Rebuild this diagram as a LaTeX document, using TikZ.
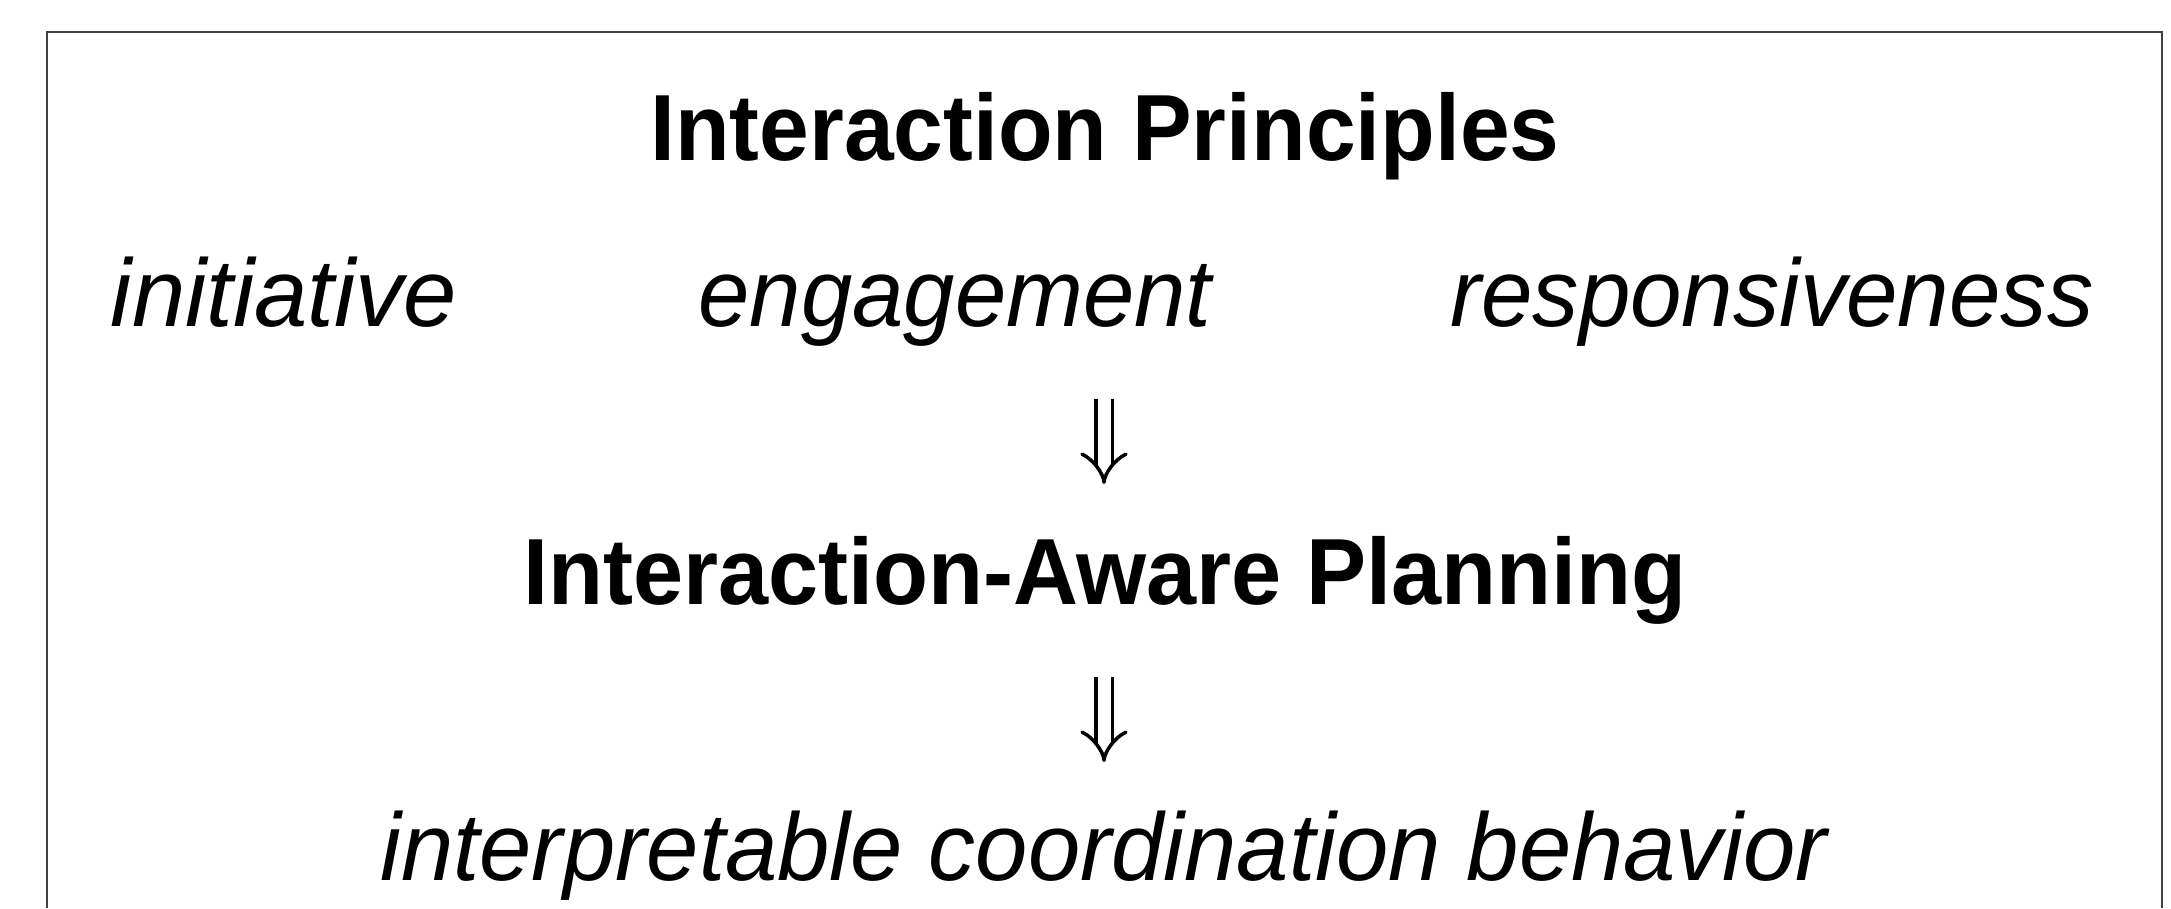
\documentclass[tikz,border=0pt]{standalone}
\usepackage{fontspec}
\setmainfont{Liberation Sans}
\usepackage{graphicx}
\usetikzlibrary{arrows.meta}
\newcommand{\fitw}[2]{\resizebox{#1}{\height}{#2}}
\begin{document}
\begin{tikzpicture}[x=1pt,y=-1pt,
  txt/.style={inner sep=0pt, anchor=base},
  boldtxt/.style={txt, font=\fontsize{94}{110}\selectfont\bfseries},
  italtxt/.style={txt, font=\fontsize{96}{110}\selectfont\itshape},
  framebox/.style={draw=black!75, line width=2pt},
  dblarrow/.style={draw=black, double=white, double distance=13pt, line width=3.5pt,
    -{Implies[length=30pt,width=50pt]}}]
\useasboundingbox (0,0) rectangle (2171,908);
\draw[framebox] (47,908) -- (47,32) -- (2162,32) -- (2162,908);

\node[boldtxt] (title) at (1105,160) {\fitw{909pt}{Interaction Principles}};
\node[italtxt] (init) at (284,326) {\fitw{346pt}{initiative}};
\node[italtxt] (eng) at (955,326) {\fitw{513pt}{engagement}};
\node[italtxt] (resp) at (1772,326) {\fitw{643pt}{responsiveness}};
\node[boldtxt] (plan) at (1105,604) {\fitw{1164pt}{Interaction-Aware Planning}};
\node[italtxt] (beh) at (1104,880) {\fitw{1447pt}{interpretable coordination behavior}};

\coordinate (a1s) at (1104,399);
\coordinate (a1e) at (1104,484);
\coordinate (a2s) at (1104,677);
\coordinate (a2e) at (1104,762);
\draw[dblarrow] (a1s) -- (a1e);
\draw[dblarrow] (a2s) -- (a2e);
\end{tikzpicture}
\end{document}
